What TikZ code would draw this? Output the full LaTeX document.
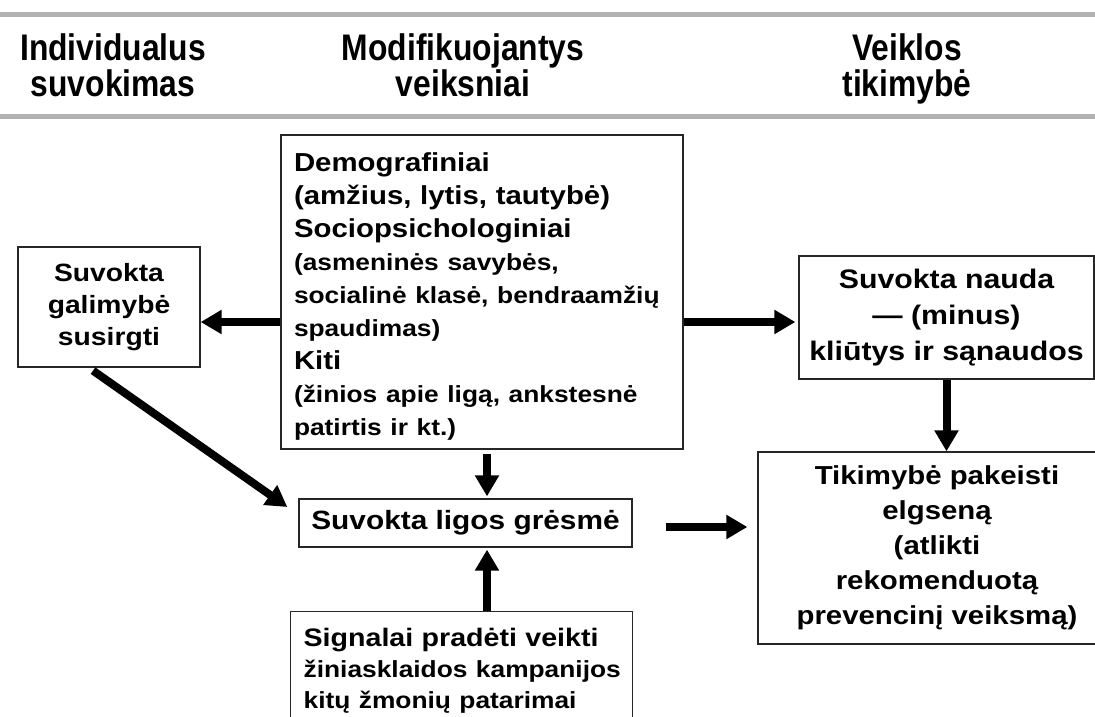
\documentclass[tikz,border=0pt]{standalone}
\usepackage{fontspec}
\setmainfont{Liberation Sans}
\newfontfamily\hdfont[FakeStretch=0.86]{Liberation Sans}
\newfontfamily\bxfont[FakeStretch=1.13]{Liberation Sans}
\usetikzlibrary{arrows.meta}
\newcommand{\smtxt}[1]{\mbox{\fontsize{23.3}{33}\selectfont #1}}

\begin{document}
\begin{tikzpicture}[
  x=1pt, y=-1pt,
  hdr/.style={align=center, font=\hdfont\bfseries\fontsize{37}{36}\selectfont},
  box/.style 2 args={draw=black!85, line width=1.3pt, align=center, inner sep=0pt,
    font=\bxfont\bfseries\fontsize{#1}{#2}\selectfont},
  arr/.style={-{Triangle[length=21pt,width=23pt]}, line width=8pt},
  rule/.style={line width=5pt, draw=black!30}
]
\useasboundingbox (0,0) rectangle (1095,717);
\clip (0,0) rectangle (1095,717);

% column heads between two grey rules
\draw[rule] (0,14.5) -- (1095,14.5);
\draw[rule] (0,116.5) -- (1095,116.5);
\node[hdr] (hindiv) at (113,65) {Individualus\\suvokimas};
\node[hdr] (hmodif) at (463,65) {Modifikuojantys\\veiksniai};
\node[hdr] (hveikl) at (907,69) {Veiklos\\tikimybė};

% boxes
\node[box={26}{33}, minimum width=402pt, minimum height=314pt, text width=376pt, align=left] (modif) at (482,292)
  {\rule{0pt}{27pt}Demografiniai\\
   (amžius, lytis, tautybė)\\
   Sociopsichologiniai\\
   \smtxt{(asmeninės savybės,}\\
   \smtxt{socialinė klasė, bendraamžių}\\
   \smtxt{spaudimas)}\\
   Kiti\\
   \smtxt{(žinios apie ligą, ankstesnė}\\
   \smtxt{patirtis ir kt.)}};
\node[box={25}{32}, minimum width=182pt, minimum height=120pt] (galim) at (109,307) {Suvokta\\galimybė\\susirgti};
\node[box={26.8}{36}, minimum width=295pt, minimum height=123pt] (nauda) at (946.5,317.5) {Suvokta nauda\\— (minus)\\kliūtys ir sąnaudos};
\node[box={26.4}{33}, minimum width=333pt, minimum height=48pt] (gresme) at (465.5,523) {Suvokta ligos grėsmė};
\node[box={26}{35}, minimum width=358pt, minimum height=192pt] (elgsena) at (937,548)
  {Tikimybė pakeisti\\elgseną\\(atlikti\\rekomenduotą\\prevencinį veiksmą)};
\node[box={25.3}{31}, anchor=north west, inner xsep=13pt, inner ysep=17pt, text width=316pt, align=left] (signal) at (290,611)
  {Signalai pradėti veikti\\
   \smtxt{žiniasklaidos kampanijos}\\
   \smtxt{kitų žmonių patarimai}};

% arrows
\draw[arr] (modif.west |- 0,322) -- (galim.east |- 0,322);
\draw[arr, shorten >=3pt] (modif.east |- 0,322) -- (nauda.west |- 0,322);
\draw[arr, shorten <=4pt, shorten >=2pt] (modif.south -| 487,0) -- (gresme.north -| 487,0);
\draw[arr, shorten >=2pt] (signal.north -| 487,0) -- (gresme.south -| 487,0);
\draw[arr] ([xshift=-16pt,yshift=-3pt]galim.south) -- ([xshift=-11pt,yshift=16pt]gresme.west);
\draw[arr, shorten <=33pt, shorten >=10pt] (gresme.east |- 0,527) -- (elgsena.west |- 0,527);
\draw[arr] (nauda.south) -- (elgsena.north -| nauda.south);
\end{tikzpicture}
\end{document}
